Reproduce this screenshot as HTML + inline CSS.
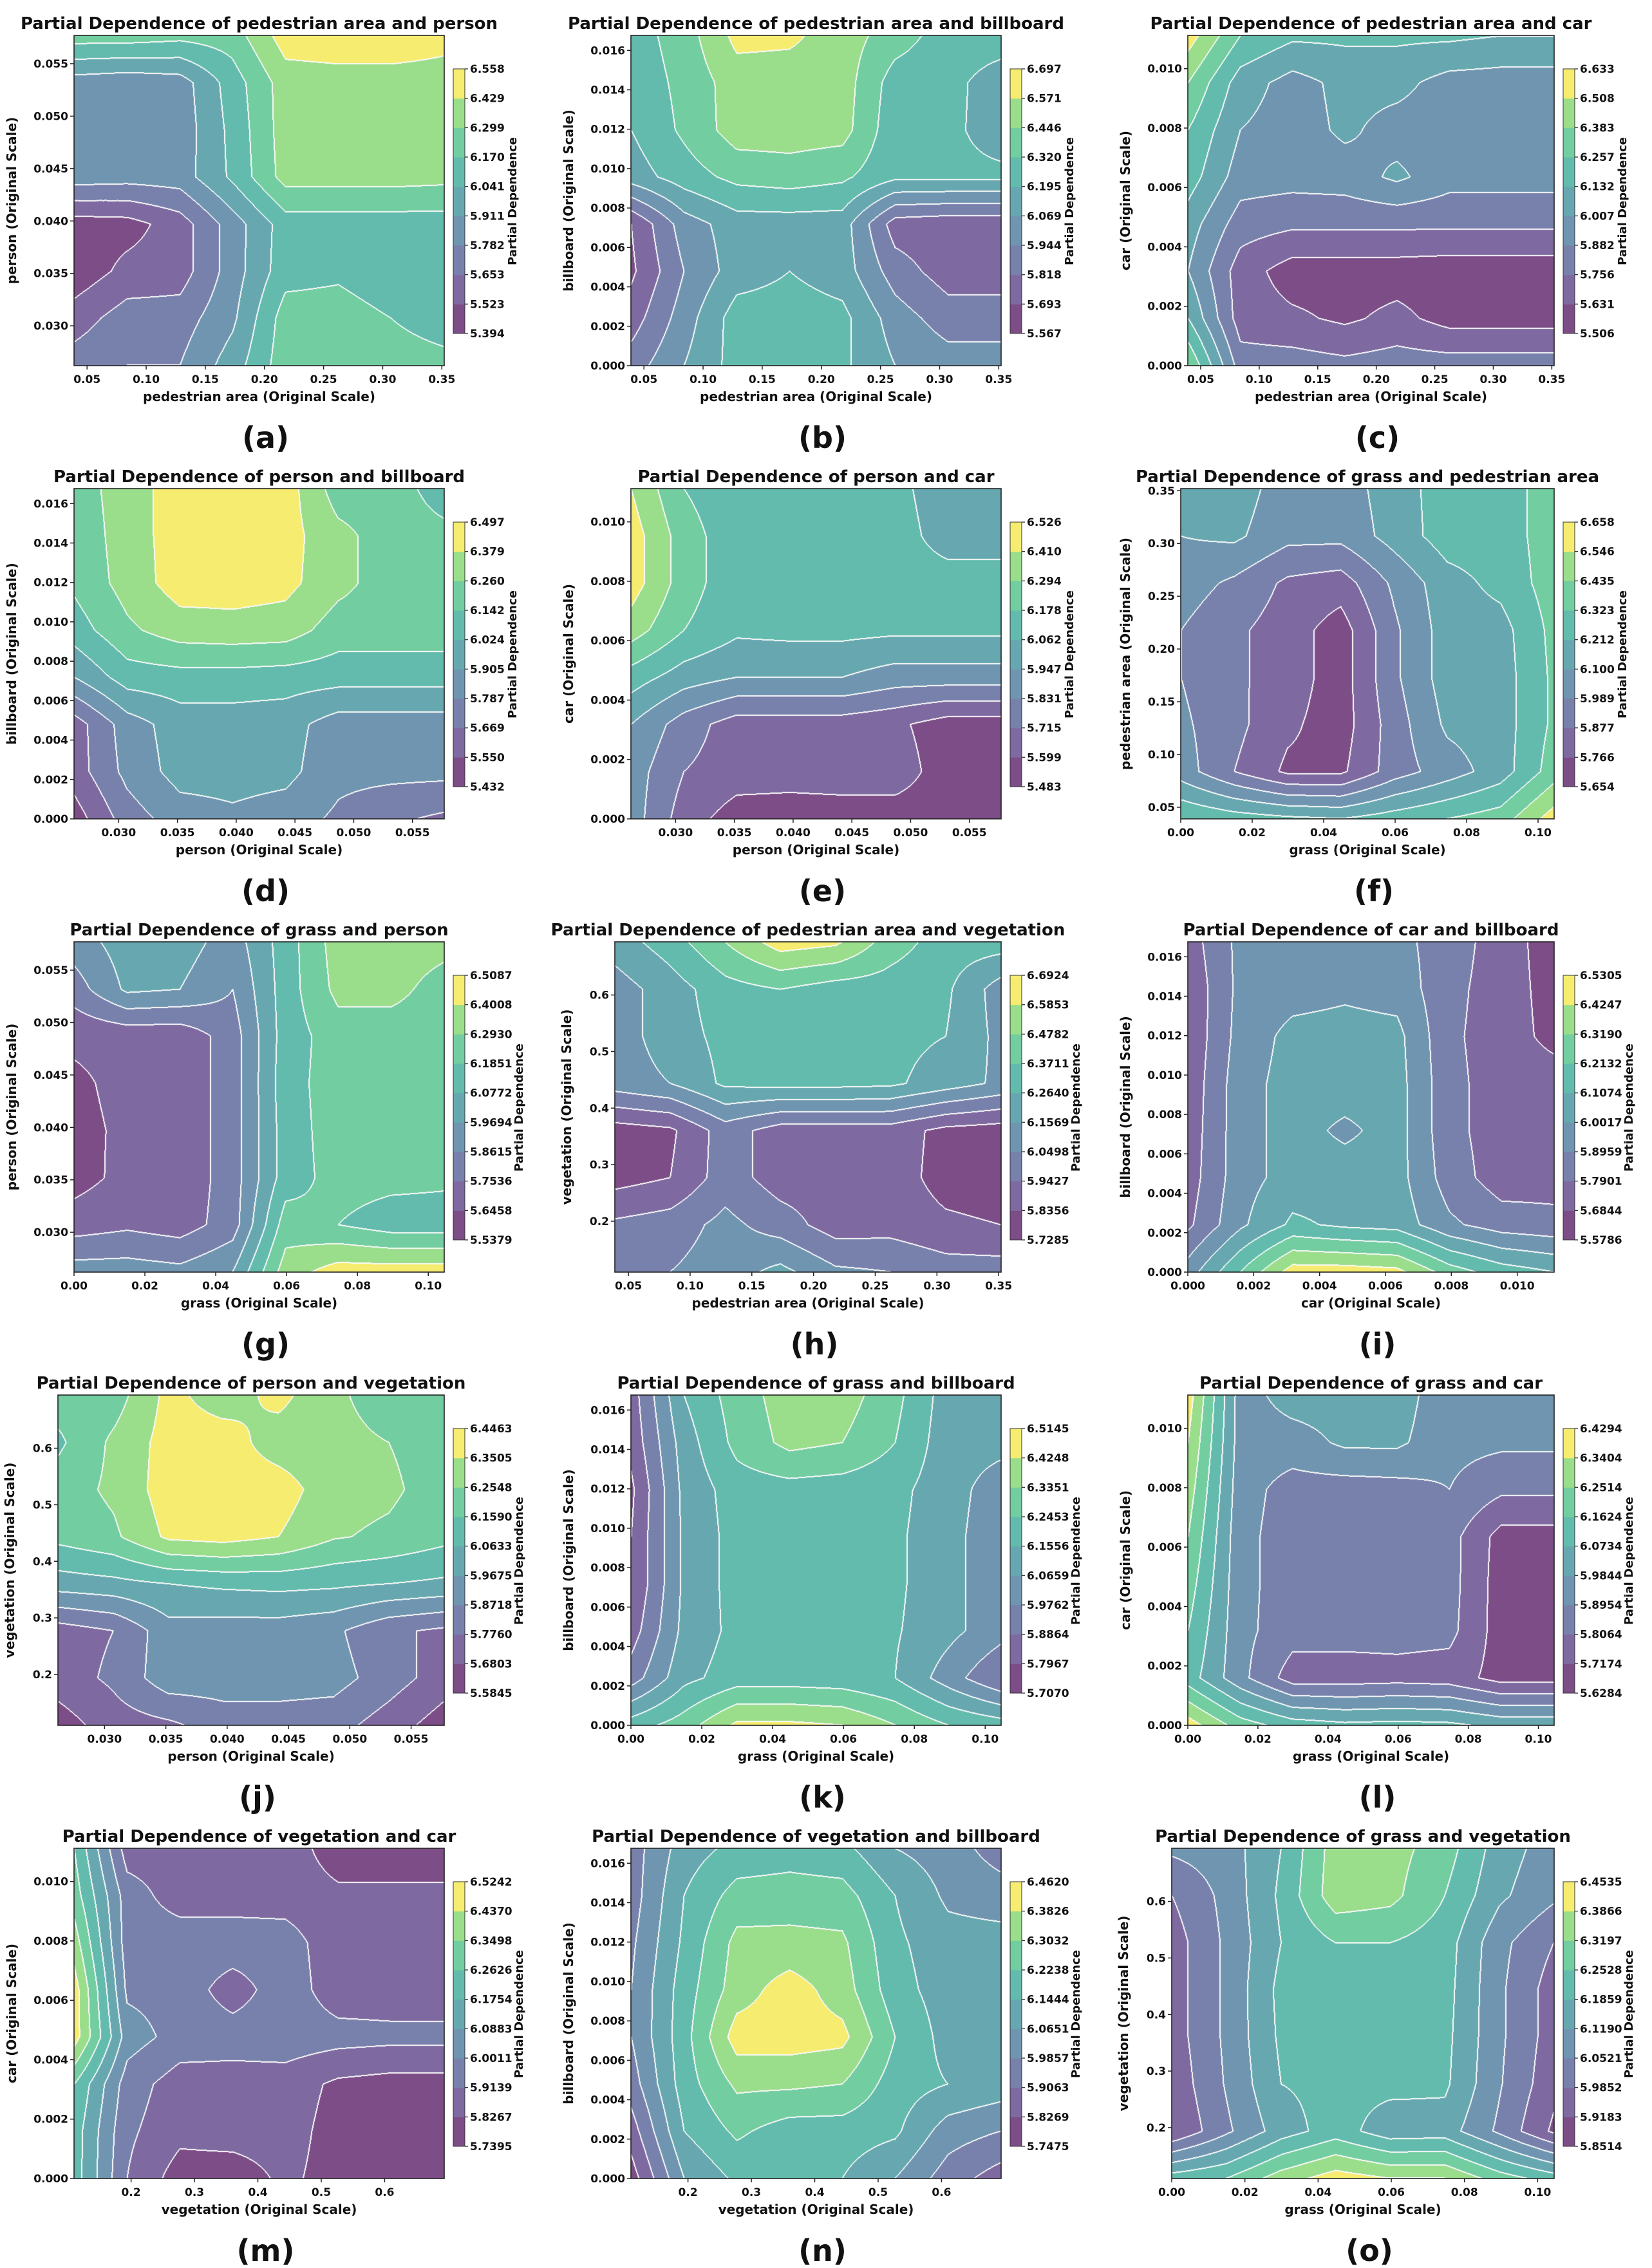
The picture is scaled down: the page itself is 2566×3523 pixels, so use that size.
<!DOCTYPE html>
<html><head><meta charset="utf-8">
<style>
html,body{margin:0;padding:0;background:#fff;}
#wrap{position:relative;width:2566px;height:3523px;overflow:hidden;background:#fff;}
canvas{position:absolute;}
svg{position:absolute;left:0;top:0;}
text{font-family:"DejaVu Sans","Liberation Sans",sans-serif;font-weight:bold;fill:#111;}
</style></head>
<body>
<div id="wrap">
<svg id="ov" width="2566" height="3523"></svg>
</div>
<script>
// ---- chart data (grids in colorbar-level units, rows top -> bottom) ----
const panelLetters = ["a","b","c","d","e","f","g","h","i","j","k","l","m","n","o"];
const xVars = ["ped","ped","ped","person","person","grass","grass","ped","car","person","grass","grass","veg","veg","grass"];
const yVars = ["person","billboard","car","billboard","car","ped","person","veg","billboard","veg","billboard","car","car","billboard","veg"];
const cbMins = [5.394,5.567,5.506,5.432,5.483,5.654,5.5379,5.7285,5.5786,5.5845,5.7070,5.6284,5.7395,5.7475,5.8514];
const cbMaxs = [6.558,6.697,6.633,6.497,6.526,6.658,6.5087,6.6924,6.5305,6.4463,6.5145,6.4294,6.5242,6.4620,6.4535];
const cbDecimals = [3,3,3,3,3,3,4,4,4,4,4,4,4,4,4];
const gridA=[[6.5,6.5,6.3,6.5,8.5,8.6,8.6,8.3],[3.5,3.3,3.5,5.5,7.5,7.6,7.6,7.6],[3.3,3.3,3.4,5.3,7.5,7.5,7.5,7.5],[3.5,3.4,3.5,5.2,7.4,7.4,7.4,7.3],[0.5,0.6,1.5,3.5,5.5,5.5,5.5,5.5],[0.3,1.3,1.5,3.5,5.6,5.8,5.3,5.2],[1.5,2.5,2.5,3.8,6.5,6.5,6.0,5.7],[2.5,3.0,3.0,4.5,6.6,6.6,6.3,6.2]];
const gridB=[[5.5,6.5,8.3,8.2,7.5,6.5,5.5,5.5],[5.3,6.3,7.5,7.5,7.5,5.5,5.3,4.5],[5.0,6.2,7.5,7.5,7.4,5.3,5.2,4.6],[4.5,5.5,6.3,6.5,6.2,5.2,5.2,5.2],[1.0,3.5,4.5,4.5,4.5,1.5,1.3,1.3],[0.8,3.0,4.5,5.0,4.5,2.5,1.5,1.5],[1.5,3.5,5.5,5.5,5.3,3.5,2.5,2.5],[2.5,4.0,5.4,5.5,5.2,4.0,3.5,3.5]];
const gridC=[[8.5,6,5.2,5.2,5.2,5.2,5.0,5.0],[7,4.5,3.6,4.3,4.3,3.6,3.5,3.5],[6,4,3.5,4.2,3.6,3.5,3.5,3.5],[5.5,3.5,3.4,3.5,4.2,3.4,3.4,3.4],[4.5,2.5,2.2,2.2,2.2,2.2,2.2,2.2],[4,1.5,0.5,0.5,0.5,0.4,0.4,0.4],[5,1.5,1.2,0.8,1.3,0.6,0.6,0.6],[7,2.5,2.5,2.3,2.5,2.5,2.5,2.5]];
const gridD=[[6.5,7.5,8.5,8.5,8.5,6.5,6.5,5.5],[6.3,7.5,8.5,8.5,8.4,7.3,6.5,6.3],[6.2,7.4,8.5,8.5,8.3,7.3,6.5,6.5],[5.5,6.8,7.5,7.6,7.5,6.5,6.5,6.5],[4.0,5.5,5.6,5.6,5.5,5.4,5.4,5.4],[1.5,3.5,4.5,4.5,4.4,3.5,3.5,3.5],[1.5,3.3,4.4,4.4,4.3,3.3,3.3,3.3],[0.5,2.5,3.5,3.8,3.5,2.8,2.2,1.8]];
const gridE=[[8,6,5.2,5.2,5.2,5.2,4.6,4.5],[8.5,6.5,5.3,5.4,5.4,5.3,4.7,4.7],[8.5,6.5,5.3,5.4,5.4,5.3,5.3,5.3],[7.5,6,5.2,5.3,5.3,5.2,5.2,5.2],[5.5,4.5,4.0,4.0,4.0,3.5,3.5,3.5],[4,2.5,1.5,1.5,1.5,1.2,0.5,0.5],[3.5,2.0,1.5,1.4,1.5,1.5,0.5,0.5],[3.5,1.5,0.5,0.5,0.5,0.5,0.5,0.5]];
const gridF=[[4.5,4.5,3.5,3.5,4.5,5.5,5.5,6.5],[4.0,4.2,3.3,3.3,4.4,5.5,5.5,6.5],[3.5,2.8,1.8,1.5,3.2,4.6,5.3,6.5],[3.0,2.2,1.5,0.5,2.8,4.5,4.6,6.3],[3.0,2.2,1.5,0.5,2.8,4.5,4.5,6.2],[3.2,2.3,1.2,0.5,2.5,4.2,4.5,6.2],[3.5,2.0,0.8,0.8,2.5,3.5,4.5,6.5],[6.0,5.5,5.2,5.0,5.5,6.0,6.5,8.5]];
const gridG=[[3.5,4.5,4.5,3.5,5.5,7.5,7.5,7.3],[2.5,4.2,4.0,3.0,5.5,7.3,7.3,6.6],[1.2,1.3,1.3,2.5,5.5,6.5,6.5,6.5],[0.8,1.3,1.3,2.5,5.6,6.5,6.5,6.5],[0.7,1.2,1.3,2.5,5.5,6.5,6.5,6.5],[0.6,1.3,1.3,2.5,5.5,6.4,6.3,6.2],[1.5,1.8,1.5,2.5,6.5,6.0,5.5,5.5],[3.5,3.5,3.3,4.0,7.5,8.5,8.5,8.5]];
const gridH=[[4.5,5.5,7.0,8.5,8.2,6.5,5.5,5.5],[3.5,4.5,5.6,6.0,5.5,5.5,5.2,3.5],[3.5,4.5,5.3,5.5,5.5,5.3,5.0,3.7],[3.5,4.0,5.2,5.3,5.3,5.2,4.5,3.8],[0.5,0.8,2.5,1.5,1.5,1.5,0.7,0.5],[0.6,1.0,2.5,1.5,1.5,1.5,0.6,0.4],[2.2,2.5,3.3,2.5,1.5,1.6,1.2,1.0],[2.5,3.0,3.5,4.3,3.2,3.0,2.5,2.5]];
const gridI=[[1.5,3.3,3.3,3.3,3.3,2.5,1.5,0.5],[1.2,3.3,3.6,3.8,3.6,2.3,1.5,0.6],[1.2,3.4,4.3,4.4,4.3,2.2,1.5,0.7],[1.3,3.6,4.4,4.5,4.4,2.3,1.5,1.5],[1.4,3.6,4.4,3.8,4.4,2.3,1.5,1.5],[1.5,3.6,4.4,4.5,4.4,2.5,1.5,1.6],[1.8,3.8,5.2,4.8,4.6,3.2,2.5,2.3],[3.5,6.0,8.5,8.5,8.3,6.5,5.5,5.0]];
const gridJ=[[6.5,6.5,8.3,7.5,8.3,7.2,6.5,6.5],[5.8,7.2,8.4,8.5,7.5,7.3,7.0,6.5],[6.5,7.2,8.5,8.5,8.5,7.4,7.2,6.5],[6.3,6.8,8.2,8.4,8.0,7.1,6.8,6.3],[4.5,4.7,5.0,5.2,5.3,5.2,5.0,4.8],[1.5,2.0,3.6,3.5,3.5,3.2,2.2,1.8],[1.5,2.2,3.6,3.5,3.5,3.4,2.5,1.5],[0.5,1.5,1.8,2.5,2.5,2.4,1.5,0.5]];
const gridK=[[1.5,5.0,6.5,7.5,7.5,6.3,4.5,4.3],[1.3,4.5,6.3,7.3,7.0,6.0,4.4,4.3],[0.8,4.3,5.5,5.6,5.5,5.3,4.4,3.5],[1.0,4.2,5.4,5.4,5.4,5.2,4.3,3.4],[1.0,4.2,5.4,5.4,5.4,5.2,4.3,3.4],[1.5,4.3,5.3,5.3,5.3,5.1,4.3,3.4],[2.5,4.7,5.5,5.5,5.4,5.0,3.5,2.0],[5.5,6.5,8.2,8.2,8.0,7.0,6.0,5.5]];
const gridL=[[8.5,3.5,4.5,4.5,4.5,3.3,3.2,3.2],[8.0,3.5,3.5,4.2,4.2,3.3,3.2,3.2],[7.5,3.4,2.6,2.5,2.6,3.0,2.2,2.2],[7.0,3.3,2.5,2.5,2.5,2.4,0.6,0.6],[6.5,3.3,2.5,2.5,2.5,2.4,0.5,0.5],[6.0,3.3,2.4,2.4,2.4,2.3,0.5,0.5],[5.5,3.3,1.5,1.5,1.6,1.5,0.6,0.6],[8.5,6.5,5.5,5.2,5.3,5.2,4.7,4.7]];
const gridM=[[6.0,1.5,1.5,1.5,1.5,0.5,0.5,0.5],[6.5,2.5,1.5,1.5,1.5,1.2,1.2,1.2],[7.5,2.5,2.6,2.6,2.5,1.3,1.3,1.3],[8.5,2.8,2.6,1.5,2.6,1.4,1.4,1.4],[8.5,3.5,2.6,2.5,2.6,2.4,2.3,2.3],[6.0,2.5,1.5,1.5,1.5,0.8,0.6,0.6],[5.5,2.2,1.3,1.4,1.4,0.6,0.5,0.5],[5.5,2.0,0.5,0.5,1.2,0.6,0.6,0.6]];
const gridN=[[2.5,4.5,5.3,5.5,5.3,4.0,3.5,2.5],[2.5,5.0,6.4,6.5,6.4,5.0,3.8,3.5],[2.8,5.2,7.3,7.3,7.2,5.2,4.4,4.4],[3.0,5.5,7.5,8.5,7.5,5.4,4.5,4.5],[3.0,5.6,8.5,8.5,8.3,6.0,4.6,4.6],[2.5,5.5,7.2,7.2,7.0,5.5,5.0,4.6],[1.5,5.0,6.2,5.5,5.5,5.2,3.5,3.0],[0.5,4.0,5.2,5.0,5.0,4.0,2.5,1.5]];
const gridO=[[3.2,3.5,5.0,7.5,7.4,6.5,4.5,3.5],[2.0,3.3,5.2,7.6,7.3,6.0,4.2,3.2],[1.5,3.2,5.0,6.0,6.0,5.5,3.3,2.0],[1.5,3.2,5.3,5.5,5.5,5.4,3.2,1.5],[1.5,3.2,5.2,5.4,5.4,5.3,3.2,1.5],[1.3,3.1,5.0,5.3,5.3,5.2,3.1,1.3],[1.0,2.8,4.5,5.5,4.4,4.5,2.8,0.8],[5.5,6.0,7.5,8.5,8.0,8.0,6.5,5.5]];
const grids=[gridA,gridB,gridC,gridD,gridE,gridF,gridG,gridH,gridI,gridJ,gridK,gridL,gridM,gridN,gridO];
const varNames={ped:"pedestrian area",person:"person",billboard:"billboard",car:"car",grass:"grass",veg:"vegetation"};
const varMins={ped:0.039,person:0.0262,billboard:0,car:0,grass:0,veg:0.11};
const varMaxs={ped:0.352,person:0.0577,billboard:0.01676,car:0.01112,grass:0.1045,veg:0.694};
const varTicks={ped:[0.05,0.10,0.15,0.20,0.25,0.30,0.35],person:[0.030,0.035,0.040,0.045,0.050,0.055],billboard:[0,0.002,0.004,0.006,0.008,0.010,0.012,0.014,0.016],car:[0,0.002,0.004,0.006,0.008,0.010],grass:[0,0.02,0.04,0.06,0.08,0.10],veg:[0.2,0.3,0.4,0.5,0.6]};
const varDec={ped:2,person:3,billboard:3,car:3,grass:2,veg:1};

// ---- rendering ----
const NS="http://www.w3.org/2000/svg";
const ov=document.getElementById('ov');
const wrap=document.getElementById('wrap');
const vir=[[68,1,84],[72,40,120],[62,73,137],[49,104,142],[38,130,142],[31,158,137],[53,183,121],[110,206,88],[240,228,50]];
const bandCols=vir.map(c=>c.map(v=>Math.round(v*0.7+255*0.3)));
function rgb(c){return 'rgb('+c[0]+','+c[1]+','+c[2]+')';}
function mk(tag,attrs,parent,txt){const e=document.createElementNS(NS,tag);for(const k in attrs)e.setAttribute(k,attrs[k]);if(txt!==undefined)e.textContent=txt;(parent||ov).appendChild(e);return e;}
const colL=[115,980,1845], colR=[690,1555,2414];
function sample(g,u,v){const R=g.length-1,C=g[0].length-1;let fx=u*C,fy=v*R;let i=Math.min(Math.floor(fx),C-1),j=Math.min(Math.floor(fy),R-1);const tx=fx-i,ty=fy-j;
 return g[j][i]*(1-tx)*(1-ty)+g[j][i+1]*tx*(1-ty)+g[j+1][i]*(1-tx)*ty+g[j+1][i+1]*tx*ty;}

panelLetters.forEach((L,p)=>{
 const col=p%3,row=Math.floor(p/3);
 const xv=xVars[p],yv=yVars[p];
 const shift= yv==='veg'?-25:(yv==='ped'?-11:0);
 const left=colL[col]+shift,right=colR[col],top=55+704*row,bot=568+704*row;
 const W=right-left,H=bot-top;
 const g=document.createElementNS(NS,'g');
 
 
 ov.appendChild(g);
 const cv=document.createElement('canvas');cv.width=W;cv.height=H;cv.style.left=left+'px';cv.style.top=top+'px';
 
 
 wrap.insertBefore(cv,ov);
 const ctx=cv.getContext('2d');const img=ctx.createImageData(W,H);const lv=new Int8Array(W*H);
 const grid=grids[p];
 for(let y=0;y<H;y++)for(let x=0;x<W;x++){let l=Math.floor(sample(grid,x/(W-1),y/(H-1)));l=Math.max(0,Math.min(8,l));lv[y*W+x]=l;}
 for(let y=0;y<H;y++)for(let x=0;x<W;x++){const k=y*W+x,l=lv[k];let edge=false;
  if(x+1<W&&lv[k+1]!==l)edge=true;else if(x>0&&lv[k-1]!==l)edge=true;else if(y+1<H&&lv[k+W]!==l)edge=true;else if(y>0&&lv[k-W]!==l)edge=true;
  const c=edge?[250,250,250]:bandCols[l];img.data[k*4]=c[0];img.data[k*4+1]=c[1];img.data[k*4+2]=c[2];img.data[k*4+3]=255;}
 ctx.putImageData(img,0,0);
 mk('rect',{x:left,y:top,width:W,height:H,fill:'none',stroke:'#222','stroke-width':1.6,},g);
 const sx=v=>left+(v-varMins[xv])/(varMaxs[xv]-varMins[xv])*W;
 const sy=v=>bot-(v-varMins[yv])/(varMaxs[yv]-varMins[yv])*H;
 varTicks[xv].forEach(t=>{const X=sx(t);if(X<left-2||X>right+2)return;
  mk('line',{x1:X,y1:bot,x2:X,y2:bot+6,stroke:'#222','stroke-width':1.5},g);
  const tx=mk('text',{x:X,y:bot+27,'font-size':17,'text-anchor':'middle'},g,t.toFixed(varDec[xv]));
  
  });
 varTicks[yv].forEach(t=>{const Y=sy(t);if(Y<top-2||Y>bot+2)return;
  mk('line',{x1:left-6,y1:Y,x2:left,y2:Y,stroke:'#222','stroke-width':1.5},g);
  const ty=mk('text',{x:left-9,y:Y+6,'font-size':17,'text-anchor':'end'},g,t.toFixed(varDec[yv]));
  
  });
 mk('text',{x:(left+right)/2,y:bot+55,'font-size':20,'text-anchor':'middle',},g,varNames[xv]+' (Original Scale)');
 const ylw=(varDec[yv]===3?5:(varDec[yv]===2?4:3));
 const ylx=left-ylw*11-35;
 mk('text',{x:ylx,y:(top+bot)/2,'font-size':20,'text-anchor':'middle',transform:'rotate(-90 '+ylx+' '+(top+bot)/2+')',},g,varNames[yv]+' (Original Scale)');
 mk('text',{x:(left+right)/2,y:top-10,'font-size':26,'text-anchor':'middle',},g,'Partial Dependence of '+varNames[xv]+' and '+varNames[yv]);
 mk('text',{x:(left+right)/2+10,y:bot+128,'font-size':46,'text-anchor':'middle',},g,'('+L+')');
 const cbx=right+14,cbw=18,cbt=top+52,cbb=bot-50,cbh=cbb-cbt;
 const cbg=document.createElementNS(NS,'g');
 
 
 g.appendChild(cbg);
 for(let i=0;i<9;i++){mk('rect',{x:cbx,y:cbb-(i+1)*cbh/9,width:cbw,height:cbh/9+0.5,fill:rgb(bandCols[i])},cbg);}
 mk('rect',{x:cbx,y:cbt,width:cbw,height:cbh,fill:'none',stroke:'#333','stroke-width':1},cbg);
 const mn=cbMins[p],mx=cbMaxs[p];
 for(let i=0;i<10;i++){const v=mn+(mx-mn)*i/9;const Y=cbb-i*cbh/9;
  mk('line',{x1:cbx+cbw,y1:Y,x2:cbx+cbw+5,y2:Y,stroke:'#333','stroke-width':1.3},cbg);
  const t=mk('text',{x:cbx+cbw+8,y:Y+6,'font-size':17},cbg,v.toFixed(cbDecimals[p]));
  
  }
 const clx=cbx+cbw+(cbDecimals[p]===3?80:90),cly=(cbt+cbb)/2;
 mk('text',{x:clx,y:cly,'font-size':18,'text-anchor':'middle',transform:'rotate(-90 '+clx+' '+cly+')',},cbg,'Partial Dependence');
});
</script>
</body></html>
